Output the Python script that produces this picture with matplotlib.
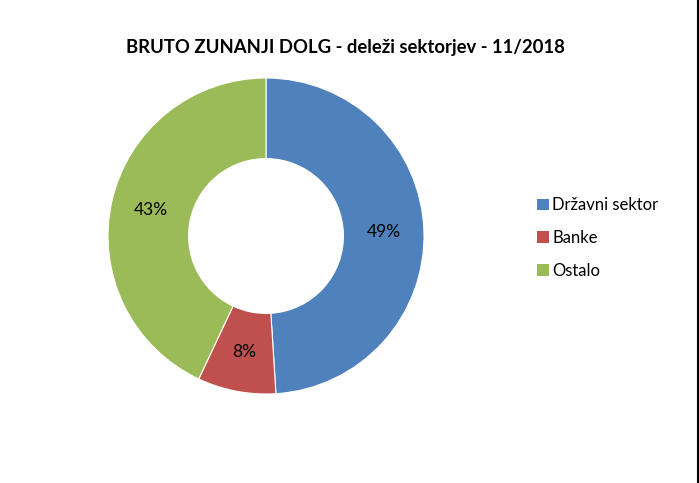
import matplotlib
matplotlib.use("Agg")
import matplotlib.pyplot as plt
from matplotlib.lines import Line2D
from matplotlib.patches import Patch

labels = ["Državni sektor", "Banke", "Ostalo"]
shares = [49, 8, 43]
colors = ["#4F81BD", "#C0504D", "#9BBB59"]

plt.rcParams["font.family"] = ["Lato", "DejaVu Sans"]

fig = plt.figure(figsize=(6.99, 4.83), dpi=100)
ax = fig.add_axes([108 / 699, 89 / 483, 316 / 699, 316 / 483])
wedges, _, autotexts = ax.pie(
    shares, colors=colors, startangle=90, counterclock=False,
    autopct="%d%%", pctdistance=0.745, radius=1.0,
    wedgeprops=dict(width=0.51, edgecolor="white", linewidth=0.8),
    textprops=dict(fontsize=12.5, color="black"))
ax.set_xlim(-1, 1)
ax.set_ylim(-1, 1)
ax.set_aspect("equal")

fig.text(345 / 699, 1 - 48 / 483, "BRUTO ZUNANJI DOLG - deleži sektorjev - 11/2018",
         ha="center", va="center", fontsize=13.3, fontweight="bold")

handles = [Patch(facecolor=c, edgecolor="none") for c in colors]
fig.legend(handles, labels, loc="center left", bbox_to_anchor=(522 / 699, 1 - 238 / 483),
           frameon=False, fontsize=12, handlelength=0.7, handleheight=0.7,
           handletextpad=0.2, labelspacing=1.0)

# right border line
fig.add_artist(Line2D([697.5 / 699, 697.5 / 699], [0, 1], color="black", lw=1.5,
                      transform=fig.transFigure))

fig.savefig("out.png", dpi=100)
